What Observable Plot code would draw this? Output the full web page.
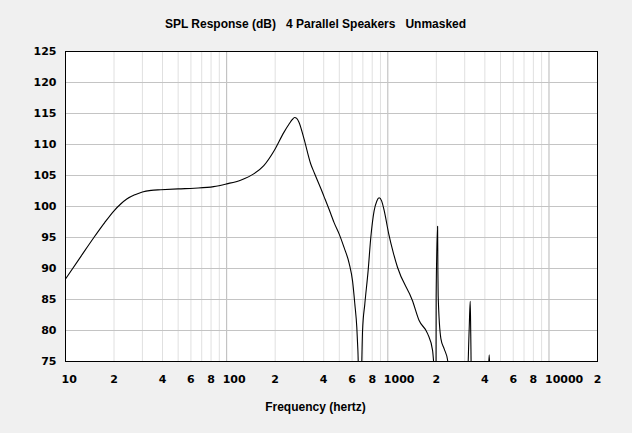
<!DOCTYPE html>
<html><head><meta charset="utf-8">
<script src="https://cdn.jsdelivr.net/npm/d3@7"></script>
<script src="https://cdn.jsdelivr.net/npm/@observablehq/plot@0.6"></script>
<style>
html,body{margin:0;padding:0;background:#f0f0f0;}
</style>
</head><body><div id="chart"></div>
<script>
const title = "SPL Response (dB)   4 Parallel Speakers   Unmasked";
const xLabel = "Frequency (hertz)";

const freq = [10, 12.5, 15, 17.5, 20, 22, 24, 27, 30, 34, 39, 50, 63, 83, 100, 122, 148, 170, 197, 227, 244, 255, 264, 272, 281, 302, 332, 350, 384, 402, 443, 464, 500, 535, 576, 604, 624, 642, 652, 665, 680, 697, 720, 755, 784, 822, 855, 883, 915, 948, 1013, 1080, 1148, 1423, 1564, 1765, 1895, 1960, 1990, 1995, 2036, 2045, 2053, 2134, 2240, 2350, 2450, 3090, 3200, 3245, 3270, 3310, 4150, 4256, 4360, 20000];
const spl = [88.3, 92.0, 95.0, 97.4, 99.3, 100.4, 101.2, 101.9, 102.35, 102.6, 102.7, 102.85, 102.95, 103.2, 103.65, 104.25, 105.3, 106.6, 109.0, 112.0, 113.3, 114.0, 114.35, 114.2, 113.6, 110.9, 106.9, 105.4, 102.9, 101.6, 98.8, 97.4, 95.5, 93.4, 90.8, 88.0, 84.3, 80.5, 76.8, 70, 70, 80.0, 84.3, 89.7, 95.0, 99.3, 100.9, 101.4, 100.9, 99.4, 95.6, 92.6, 90.2, 84.8, 81.6, 79.5, 76.8, 72, 70, 85.5, 96.8, 89.5, 85.6, 78.7, 77.0, 75.2, 70, 70, 80.5, 84.7, 79.5, 70, 70, 76.1, 70, 70];

const yTicks = [75, 80, 85, 90, 95, 100, 105, 110, 115, 120, 125];
const yGrid = [80, 85, 90, 95, 100, 105, 110, 115, 120];
const decadeTicks = [10, 100, 1000, 10000];
const digitTicks = [20, 40, 60, 80, 200, 400, 600, 800, 2000, 4000, 6000, 8000, 20000];
const digitLabels = ["2", "4", "6", "8", "2", "4", "6", "8", "2", "4", "6", "8", "2"];
const minorGrid = [20, 30, 40, 50, 60, 70, 80, 90, 200, 300, 400, 500, 600, 700, 800, 900, 2000, 3000, 4000, 5000, 6000, 7000, 8000, 9000];
const decadeGrid = [100, 1000, 10000];

const data = freq.map((f, i) => ({f, db: spl[i]}));
const digitData = digitTicks.map((t, i) => ({t, label: digitLabels[i]}));

const chart = Plot.plot({
  width: 632,
  height: 433,
  marginLeft: 65,
  marginRight: 35,
  marginTop: 51,
  marginBottom: 72,
  style: {background: "#f0f0f0", fontFamily: "DejaVu Sans", fontSize: "11px", fontWeight: "bold", color: "#000", whiteSpace: "pre"},
  x: {type: "log", domain: [10, 20000], axis: null},
  y: {domain: [75, 125], axis: null},
  marks: [
    Plot.frame({fill: "white"}),
    Plot.ruleX(minorGrid, {stroke: "#e0e0e0", strokeWidth: 1}),
    Plot.ruleX(decadeGrid, {stroke: "#b8b8b8", strokeWidth: 1}),
    Plot.ruleY(yGrid, {stroke: "#c4c4c4", strokeWidth: 1}),
    Plot.line(data, {x: "f", y: "db", stroke: "black", strokeWidth: 1.1, curve: "monotone-x", clip: true}),
    Plot.frame({stroke: "black", strokeWidth: 1}),
    Plot.axisY(yTicks, {tickSize: 0, tickPadding: 9, label: null}),
    Plot.text(digitData, {x: "t", text: "label", frameAnchor: "bottom", lineAnchor: "top", dy: 14}),
    Plot.axisX(decadeTicks, {tickSize: 0, tickPadding: 14, label: null, textAnchor: "start", dx: -4, tickFormat: d => String(d)}),
    Plot.text([title], {frameAnchor: "top", lineAnchor: "middle", dx: -16, dy: -27, fontFamily: "Liberation Sans", fontSize: 12, fontWeight: "bold"}),
    Plot.text([xLabel], {frameAnchor: "bottom", lineAnchor: "middle", dx: -16, dy: 46, fontFamily: "Liberation Sans", fontSize: 12, fontWeight: "bold"})
  ]
});
document.getElementById("chart").appendChild(chart);
</script>
</body></html>
